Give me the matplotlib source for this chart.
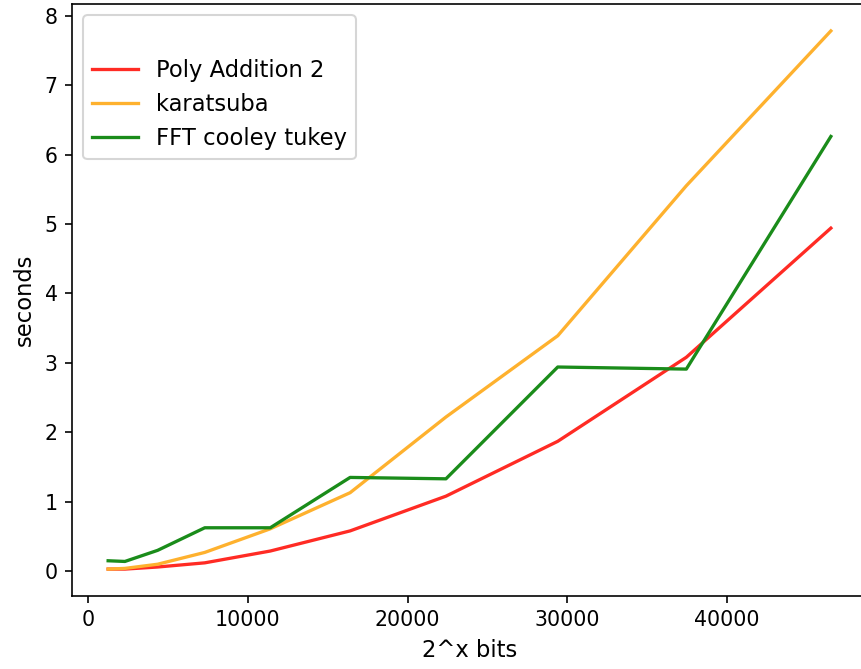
import matplotlib
matplotlib.use("Agg")
import matplotlib.pyplot as plt

# sizes of the inputs (bits) and timings (seconds)
bits = [1250, 2300, 4350, 7300, 11400, 16400, 22400, 29400, 37450, 46500]
poly_add = [0.03, 0.03, 0.06, 0.12, 0.29, 0.58, 1.08, 1.87, 3.08, 4.94]
karatsuba = [0.03, 0.04, 0.10, 0.27, 0.61, 1.13, 2.22, 3.39, 5.55, 7.78]
fft = [0.15, 0.14, 0.30, 0.625, 0.625, 1.35, 1.33, 2.94, 2.91, 6.26]

fig = plt.figure(figsize=(861 / 148, 669 / 148), dpi=148)
ax = fig.add_axes([72 / 861, 73 / 669, 795 / 861, 592 / 669])

# empty first legend row, like the original
ax.plot([], [], color="white", label=" ")
ax.plot(bits, poly_add, color="#ff2b24", lw=1.6, label="Poly Addition 2")
ax.plot(bits, karatsuba, color="#feb12e", lw=1.6, label="karatsuba")
ax.plot(bits, fft, color="#1a8c1a", lw=1.6, label="FFT cooley tukey")

ax.set_xlabel("2^x bits", fontsize=11)
ax.set_ylabel("seconds", fontsize=11)
ax.legend(loc="upper left", fontsize=11)

fig.savefig("out.png", dpi=148)
